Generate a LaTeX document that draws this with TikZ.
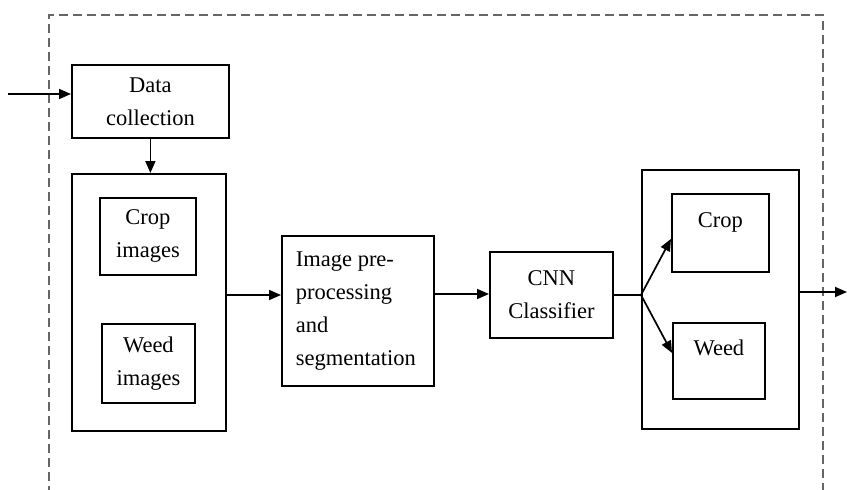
\documentclass[tikz,border=0pt]{standalone}
\usepackage{fontspec}
\setmainfont{Liberation Serif}
\usetikzlibrary{arrows.meta}
\begin{document}
\begin{tikzpicture}[x=1pt,y=-1pt,
  box/.style={draw, line width=1.8pt, inner sep=0pt, anchor=north west,
    font=\fontsize{22.5}{33}\selectfont, align=center},
  arr/.style={line width=1.7pt, -{Triangle[length=12pt,width=10pt]}},
  ln/.style={line width=1.7pt},
  txt/.style={font=\fontsize{22.5}{33}\selectfont, inner sep=0pt},
  frame/.style={draw=black!60, line width=1.3pt, dash pattern=on 9pt off 5pt}]
\useasboundingbox (0,0) rectangle (847,490);
\draw[frame] (49,495) -- (49,15) -- (823,15) -- (823,495);

\node[box, minimum width=157, minimum height=73] (data) at (71,64) {Data\\collection};
\node[box, minimum width=154, minimum height=257] (imgs) at (71,173) {};
\node[box, minimum width=96, minimum height=77] (cropi) at (99,197) {Crop\\images};
\node[box, minimum width=93, minimum height=79] (weedi) at (101,323) {Weed\\images};
\node[box, minimum width=152, minimum height=150, align=flush left, text width=124] (pre) at (281,235) {Image pre-\\processing\\and\\segmentation};
\node[box, minimum width=123, minimum height=86] (cnn) at (489,251) {CNN\\Classifier};
\node[box, minimum width=157, minimum height=259] (res) at (641,169) {};
\node[box, minimum width=97, minimum height=78] (cropr) at (671,193) {};
\node[box, minimum width=92, minimum height=76] (weedr) at (672,322) {};
\node[txt] (croptxt) at ([yshift=-29pt]cropr.north) {Crop};
\node[txt] (weedtxt) at ([yshift=-26pt]weedr.north) {Weed};

\coordinate (in) at (8,94);
\coordinate (a1) at (0,295);
\coordinate (a2) at (0,294);
\coordinate (split) at (641,295);
\coordinate (out) at (847,292);

\draw[arr] (in) -- (in -| data.west);
\draw[arr] (data.south) -- (data.south |- imgs.north);
\draw[arr] (a1 -| imgs.east) -- (a1 -| pre.west);
\draw[arr] (a2 -| pre.east) -- (a2 -| cnn.west);
\draw[ln] (split -| cnn.east) -- (split);
\draw[arr] (split) -- ([yshift=-6pt]cropr.west);
\draw[arr] (split) -- ([yshift=8pt]weedr.west);
\draw[arr] (out -| res.east) -- (out);
\end{tikzpicture}
\end{document}
